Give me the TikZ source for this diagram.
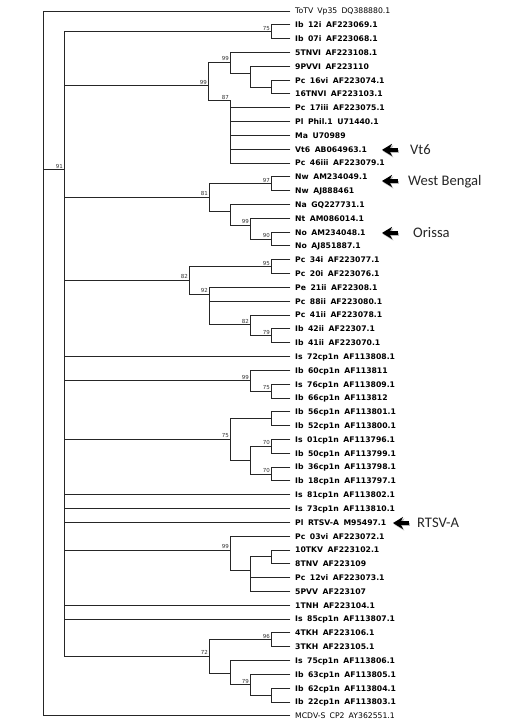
\documentclass[tikz,border=0pt]{standalone}
\usepackage{fontspec}
\setmainfont{DejaVu Sans}[WordSpace=1.7]
\newfontfamily\notefont{Carlito}
\usetikzlibrary{arrows.meta}

\begin{document}
\begin{tikzpicture}[x=1pt,y=-13.82pt,line join=round,line cap=round,
    branch/.style={draw=black!85,line width=0.9pt,line cap=rect,line join=miter},
    leaf/.style={anchor=west,inner xsep=5pt,inner ysep=0pt,text height=5.8pt,text depth=0pt,font=\fontsize{7.7}{9}\selectfont\bfseries},
    plain/.style={leaf,font=\fontsize{7.7}{9}\selectfont},
    boot/.style={anchor=south east,inner xsep=1pt,inner ysep=1.3pt,font=\fontsize{5.5}{6}\selectfont,text=black!80},
    note/.style={anchor=west,inner sep=0pt,text height=9.4pt,text depth=0pt,font=\notefont\fontsize{14.6}{16}\selectfont,text=black!85},
    bigarrow/.style={line width=3.4pt,line cap=butt,-{Stealth[length=10pt,width=12pt,inset=3pt]}}]
\fill[white] (0,0.204) rectangle (522,52.592);
\useasboundingbox (0,0.204) rectangle (522,52.592);

% leaves, one per row
\node[plain] (l1) at (290,1) {ToTV Vp35 DQ388880.1};
\foreach \lab [count=\i from 2] in {Ib 12i AF223069.1, Ib 07i AF223068.1, 5TNVI AF223108.1,
    9PVVI AF223110, Pc 16vi AF223074.1, 16TNVI AF223103.1, Pc 17iii AF223075.1,
    Pl Phil.1 U71440.1, Ma U70989, Vt6 AB064963.1, Pc 46iii AF223079.1,
    Nw AM234049.1, Nw AJ888461, Na GQ227731.1, Nt AM086014.1, No AM234048.1,
    No AJ851887.1, Pc 34i AF223077.1, Pc 20i AF223076.1, Pe 21ii AF22308.1,
    Pc 88ii AF223080.1, Pc 41ii AF223078.1, Ib 42ii AF22307.1, Ib 41ii AF223070.1,
    Is 72cp1n AF113808.1, Ib 60cp1n AF113811, Is 76cp1n AF113809.1, Ib 66cp1n AF113812,
    Ib 56cp1n AF113801.1, Ib 52cp1n AF113800.1, Is 01cp1n AF113796.1, Ib 50cp1n AF113799.1,
    Ib 36cp1n AF113798.1, Ib 18cp1n AF113797.1, Is 81cp1n AF113802.1, Is 73cp1n AF113810.1,
    Pl~RTSV-A M95497.1, Pc 03vi AF223072.1, 10TKV AF223102.1, 8TNV AF223109,
    Pc 12vi AF223073.1, 5PVV AF223107, 1TNH AF223104.1, Is 85cp1n AF113807.1,
    4TKH AF223106.1, 3TKH AF223105.1, Is 75cp1n AF113806.1, Ib 63cp1n AF113805.1,
    Ib 62cp1n AF113804.1, Ib 22cp1n AF113803.1}
  \node[leaf] (l\i) at (290,\i) {\lab};
\node[plain] (l52) at (290,52) {MCDV-S CP2 AY362551.1};

% internal nodes
\coordinate (root) at (43,12.5);
\coordinate (n91) at (64,12.5);
\coordinate (pA) at (271,2.5);
\coordinate (c99) at (208,6.4);
\coordinate (s99) at (230,4.7);
\coordinate (m250) at (250,5.5);
\coordinate (pB) at (271,6.5);
\coordinate (n87) at (230,7.5);
\coordinate (n81) at (209,14.5);
\coordinate (n97) at (271,13.5);
\coordinate (nNa) at (230,15.5);
\coordinate (n99b) at (250,16.5);
\coordinate (n90) at (271,17.5);
\coordinate (n82) at (189,20.5);
\coordinate (n95) at (271,19.5);
\coordinate (n92) at (209,21.5);
\coordinate (n82b) at (250,23.7);
\coordinate (n79) at (271,24.5);
\coordinate (n99c) at (250,27.75);
\coordinate (n75s) at (271,28.5);
\coordinate (n75b) at (230,32);
\coordinate (pC) at (271,30.5);
\coordinate (n250b) at (250,33.5);
\coordinate (n70a) at (271,32.5);
\coordinate (n70b) at (271,34.5);
\coordinate (n99d) at (230,40);
\coordinate (n250c) at (250,41.5);
\coordinate (pD) at (271,40.5);
\coordinate (n72) at (209,47.7);
\coordinate (n96) at (271,46.5);
\coordinate (n230e) at (230,48.9);
\coordinate (n79b) at (250,49.75);
\coordinate (pE) at (271,50.5);

% branches
\foreach \p/\c in {root/l1.west, root/n91, root/l52.west,
    n91/pA, n91/c99, n91/n81, n91/n82, n91/l26.west, n91/n99c, n91/n75b,
    n91/l36.west, n91/l37.west, n91/l38.west, n91/n99d, n91/l44.west, n91/l45.west, n91/n72,
    pA/l2.west, pA/l3.west, c99/s99, c99/n87, s99/l4.west, s99/m250,
    m250/l5.west, m250/pB, pB/l6.west, pB/l7.west,
    n87/l8.west, n87/l9.west, n87/l10.west, n87/l11.west, n87/l12.west,
    n81/n97, n81/nNa, n97/l13.west, n97/l14.west, nNa/l15.west, nNa/n99b,
    n99b/l16.west, n99b/n90, n90/l17.west, n90/l18.west,
    n82/n95, n82/n92, n95/l19.west, n95/l20.west,
    n92/l21.west, n92/l22.west, n92/n82b, n82b/l23.west, n82b/n79, n79/l24.west, n79/l25.west,
    n99c/l27.west, n99c/n75s, n75s/l28.west, n75s/l29.west,
    n75b/pC, n75b/n250b, pC/l30.west, pC/l31.west, n250b/n70a, n250b/n70b,
    n70a/l32.west, n70a/l33.west, n70b/l34.west, n70b/l35.west,
    n99d/l39.west, n99d/n250c, n250c/pD, n250c/l42.west, n250c/l43.west,
    pD/l40.west, pD/l41.west,
    n72/n96, n72/n230e, n96/l46.west, n96/l47.west, n230e/l48.west, n230e/n79b,
    n79b/l49.west, n79b/pE, pE/l50.west, pE/l51.west}
  \draw[branch] (\p) |- (\c);

% bootstrap values
\foreach \n/\v in {n91/91, pA/75, c99/99, s99/99, n87/87, n81/81, n97/97, n99b/99, n90/90,
    n82/82, n95/95, n92/92, n82b/82, n79/79, n99c/99, n75s/75, n75b/75, n70a/70, n70b/70,
    n99d/99, n96/96, n72/72, n79b/79}
  \node[boot] (bs-\n) at (\n) {\v};

% marked isolates
\foreach \nm/\txt/\r/\xa/\xt in {vt6/Vt6/11.05/382/410, wb/West Bengal/13.3/382/408,
    ori/Orissa/17.06/382/413, rtsv/RTSV-A/38.05/393/417}{
  \node[note] (\nm) at (\xt,\r) {\txt};
  \coordinate (\nm-tip) at (\xa,\r);
  \coordinate (\nm-tail) at (\xa+16,\r);
  \draw[bigarrow,gray!55,transform canvas={shift={(1.2pt,-1.5pt)}}] (\nm-tail) -- (\nm-tip);
  \draw[bigarrow] (\nm-tail) -- (\nm-tip);
}
\end{tikzpicture}
\end{document}
